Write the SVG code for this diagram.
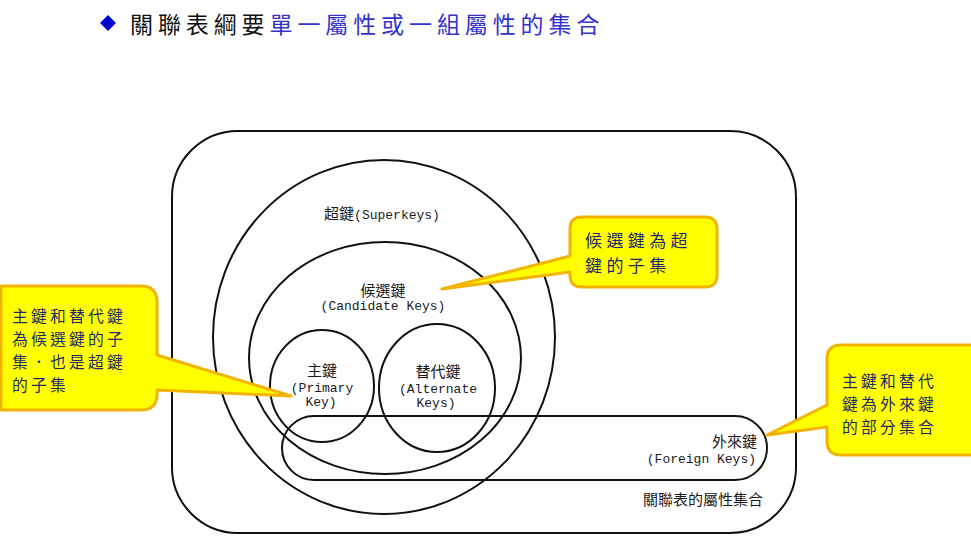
<svg xmlns="http://www.w3.org/2000/svg" width="971" height="544" viewBox="0 0 971 544">
<style>
.bg{fill:#ffffff}
.ln{fill:none;stroke:#111;stroke-width:2}
.cj{font-family:"Noto Sans CJK TC","Noto Sans CJK SC",sans-serif;font-size:15px;fill:#1a1a1a}
.en{font-family:"Liberation Mono","DejaVu Sans Mono",monospace;font-size:13px;fill:#1a1a1a}
.call{fill:#ffff00;stroke:#f2b400;stroke-width:3;stroke-linejoin:round}
.ct{font-family:"Noto Sans CJK TC","Noto Sans CJK SC",sans-serif;fill:#1f2a6e}
.title{font-family:"Noto Sans CJK TC","Noto Sans CJK SC",sans-serif;font-size:23px;letter-spacing:4.9px}
</style>
<rect class="bg" x="0" y="0" width="971" height="544"/>
<g id="title">
<polygon points="108,15 116,23 108,31 100,23" fill="#0000cc"/>
<text class="title" x="130" y="33"><tspan fill="#111">關聯表綱要</tspan><tspan fill="#3333cc">單一屬性或一組屬性的集合</tspan></text>
</g>
<g id="relation-attributes">
<rect class="ln" x="172" y="131" width="624" height="402" rx="66" ry="66"/>
<text class="cj" x="763" y="505" text-anchor="end">關聯表的屬性集合</text>
</g>
<g id="superkeys">
<ellipse class="ln" cx="384" cy="337" rx="171" ry="177"/>
<text x="382" y="219" text-anchor="middle"><tspan class="cj">超鍵</tspan><tspan class="en" font-size="13.5px">(Superkeys)</tspan></text>
</g>
<g id="candidate-keys">
<ellipse class="ln" cx="385" cy="358" rx="136" ry="116"/>
<text class="cj" x="383" y="296" text-anchor="middle">候選鍵</text>
<text class="en" x="383" y="310" text-anchor="middle">(Candidate Keys)</text>
</g>
<g id="primary-key">
<ellipse class="ln" cx="322" cy="386" rx="52" ry="56"/>
<text class="cj" x="322" y="376" text-anchor="middle">主鍵</text>
<text class="en" x="322" y="392" text-anchor="middle">(Primary</text>
<text class="en" x="321" y="406" text-anchor="middle">Key)</text>
</g>
<g id="alternate-keys">
<ellipse class="ln" cx="437" cy="388" rx="58" ry="64"/>
<text class="cj" x="438" y="377" text-anchor="middle">替代鍵</text>
<text class="en" x="438" y="393" text-anchor="middle">(Alternate</text>
<text class="en" x="436" y="407" text-anchor="middle">Keys)</text>
</g>
<g id="foreign-keys">
<rect class="ln" x="282" y="416" width="485" height="64" rx="32" ry="32"/>
<text class="cj" x="757" y="447" text-anchor="end">外來鍵</text>
<text class="en" x="756" y="463" text-anchor="end">(Foreign Keys)</text>
</g>
<g id="connectors">
<g id="callout-left">
<path class="call" d="M1,286 H141 Q157,286 157,302 V355 L291,396 L157,390 V394 Q157,410 141,410 H1 Z"/>
<text class="ct" font-size="15.8px" letter-spacing="3.2px"><tspan x="12" y="322">主鍵和替代鍵</tspan><tspan x="12" y="345">為候選鍵的子</tspan><tspan x="12" y="368">集．也是超鍵</tspan><tspan x="12" y="391">的子集</tspan></text>
</g>
<g id="callout-middle">
<path class="call" d="M582,217 H705 Q717,217 717,229 V275 Q717,287 705,287 H582 Q570,287 570,275 V272 L442,289 L570,256 V229 Q570,217 582,217 Z"/>
<text class="ct" font-size="17px" letter-spacing="4.4px"><tspan x="585" y="247">候選鍵為超</tspan><tspan x="585" y="272">鍵的子集</tspan></text>
</g>
<g id="callout-right">
<path class="call" d="M841,345 H975 V455 H841 Q827,455 827,441 V427 L767,435 L827,405 V359 Q827,345 841,345 Z"/>
<text class="ct" font-size="15.8px" letter-spacing="3.2px"><tspan x="842" y="387">主鍵和替代</tspan><tspan x="842" y="410">鍵為外來鍵</tspan><tspan x="842" y="433">的部分集合</tspan></text>
</g>
</g>
</svg>
